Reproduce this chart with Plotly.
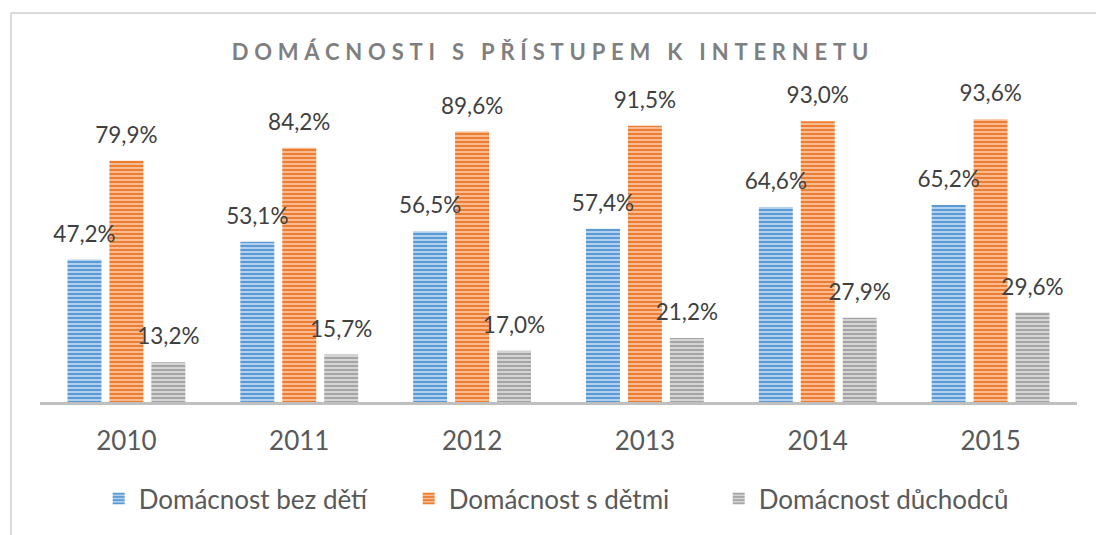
import plotly.graph_objects as go

years = ["2010", "2011", "2012", "2013", "2014", "2015"]
series_names = ["Domácnost bez dětí", "Domácnost s dětmi", "Domácnost důchodců"]
bez_deti = [47.2, 53.1, 56.5, 57.4, 64.6, 65.2]
s_detmi = [79.9, 84.2, 89.6, 91.5, 93.0, 93.6]
duchodcu = [13.2, 15.7, 17.0, 21.2, 27.9, 29.6]
title_text = "DOMÁCNOSTI S PŘÍSTUPEM K INTERNETU"

values = [bez_deti, s_detmi, duchodcu]
fg_colors = ["#5b9bd5", "#ed7d31", "#a5a5a5"]
bg_colors = ["#bcd5f0", "#f8c29d", "#d9d9d9"]

FONT = "Lato"
BARGAP = 0.272

fig = go.Figure()
for i, (name, vals) in enumerate(zip(series_names, values)):
    fig.add_trace(go.Bar(
        x=years, y=vals, name=name, offsetgroup=str(i),
        marker=dict(
            color=fg_colors[i],
            line=dict(width=0),
            pattern=dict(shape="-", fgcolor=fg_colors[i], bgcolor=bg_colors[i],
                         size=4, solidity=0.55, fillmode="replace"),
        ),
    ))
for i, vals in enumerate(values):
    fig.add_trace(go.Scatter(
        x=years, y=vals, offsetgroup=str(i), mode="markers+text",
        text=[f"{v:.1f}%".replace(".", ",") for v in vals],
        textposition="top center",
        textfont=dict(family=FONT, size=22.5, color="#404040"),
        marker=dict(size=18, opacity=0),
        showlegend=False, hoverinfo="skip", cliponaxis=False,
    ))

fig.update_layout(
    width=1096, height=535,
    paper_bgcolor="white", plot_bgcolor="white",
    margin=dict(l=40, r=19, t=100, b=133),
    barmode="group", bargap=BARGAP, bargroupgap=0.19,
    scattermode="group", scattergap=BARGAP,
    title=dict(text=f"<b>{title_text}</b>", x=0.5, xanchor="center",
               y=1 - 52 / 535, yanchor="middle",
               font=dict(family=FONT, size=22, color="#7f7f7f")),
    legend=dict(orientation="h", x=0.505, xanchor="center", y=-0.32, yanchor="middle",
                font=dict(family=FONT, size=26, color="#595959"),
                entrywidth=265, entrywidthmode="pixels",
                itemsizing="constant"),
    showlegend=True,
)
fig.update_xaxes(showline=True, linecolor="#bfbfbf", linewidth=3,
                 ticks="outside", ticklen=14, tickcolor="rgba(0,0,0,0)",
                 tickfont=dict(family=FONT, size=26, color="#595959"),
                 showgrid=False, zeroline=False)
fig.update_yaxes(visible=False, range=[0, 100])

# outer chart frame (top and left edges visible)
fig.add_shape(type="line", xref="paper", yref="paper",
              x0=(11 - 40) / 1037, x1=1.05, y0=(402 - 13) / 302, y1=(402 - 13) / 302,
              line=dict(color="#d9d9d9", width=2))
fig.add_shape(type="line", xref="paper", yref="paper",
              x0=(11 - 40) / 1037, x1=(11 - 40) / 1037, y0=(402 - 13) / 302, y1=-0.5,
              line=dict(color="#d9d9d9", width=2))

post = """
document.body.style.margin='0';
function ls(){
  document.querySelectorAll('.gtitle').forEach(function(e){
    e.style.letterSpacing='5.8px';
    e.removeAttribute('transform');
    var b=e.getBBox(); var cx=b.x+(b.width-5.8)/2;
    e.setAttribute('transform','translate('+(550-cx)+',0)');
  });
}
ls();
var gd=document.getElementsByClassName('plotly-graph-div')[0];
if(gd&&gd.on){gd.on('plotly_afterplot',ls);}
setTimeout(ls,50);
"""
fig.write_html("out.html", post_script=post, config={"displayModeBar": False})
